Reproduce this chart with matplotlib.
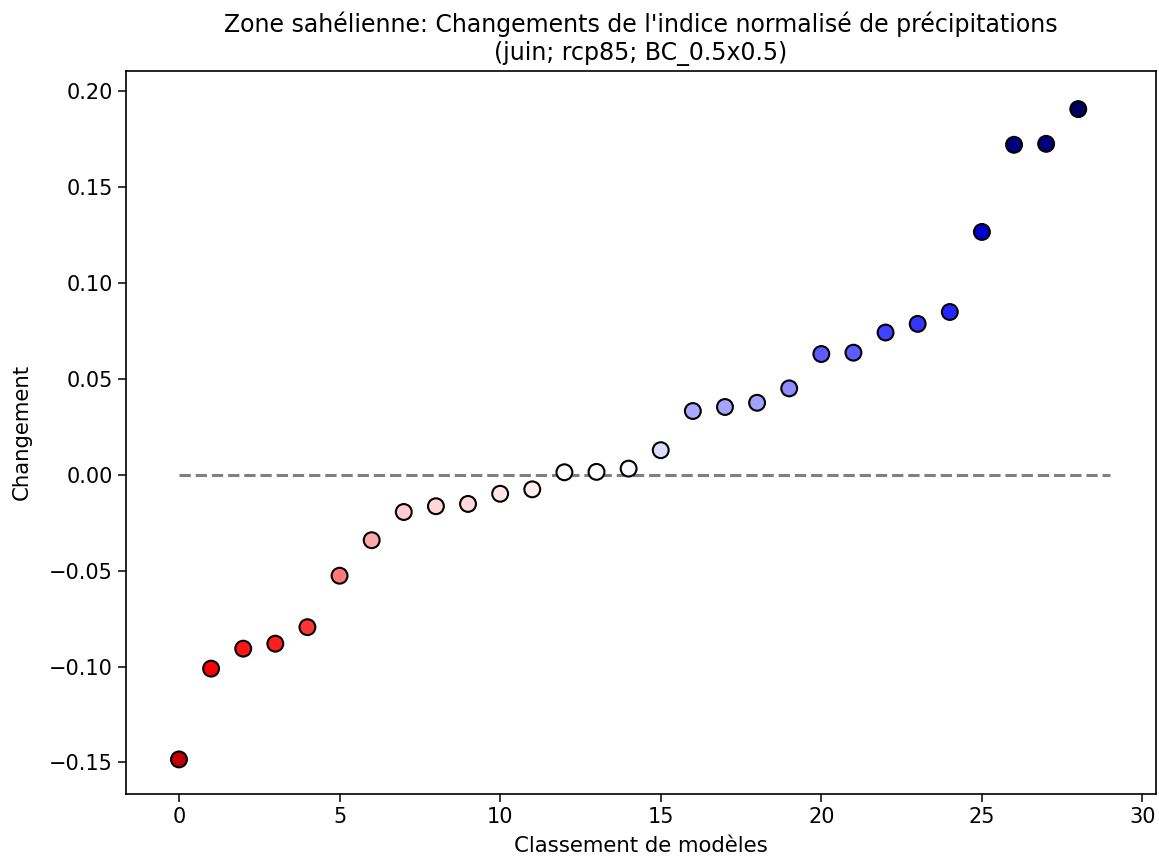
import matplotlib
matplotlib.use("Agg")
import matplotlib.pyplot as plt
import numpy as np
from matplotlib.colors import Normalize

rank = list(range(29))
change = [-0.1484, -0.1011, -0.0907, -0.0881, -0.0795, -0.0527, -0.0342, -0.0195,
          -0.0165, -0.0153, -0.0100, -0.0077, 0.0012, 0.0014, 0.0031, 0.0127,
          0.0331, 0.0352, 0.0374, 0.0449, 0.0628, 0.0635, 0.0740, 0.0785,
          0.0847, 0.1264, 0.1718, 0.1723, 0.1904]

title = "Zone sahélienne: Changements de l'indice normalisé de précipitations\n(juin; rcp85; BC_0.5x0.5)"
xlabel = "Classement de modèles"
ylabel = "Changement"

plt.rcParams['font.family'] = ['DejaVu Sans']
fs = 15

fig = plt.figure(figsize=(11.59, 8.59), dpi=100)
ax = fig.add_axes([0.1087, 0.0757, 0.9974 - 0.1087, 0.9177 - 0.0757])

norm = Normalize(vmin=-0.2, vmax=0.2)
ax.hlines(0, 0, 29, colors='grey', linestyles='--', linewidth=2.2, zorder=1)
ax.scatter(rank, change, c=change, cmap='seismic_r', norm=norm, s=130,
           edgecolors='black', linewidths=1.5, zorder=3)

ax.set_xlim(-1.65, 30.42)
ax.set_ylim(-0.1664, 0.2104)
ax.set_xticks([0, 5, 10, 15, 20, 25, 30])
ax.set_yticks([-0.15, -0.10, -0.05, 0.0, 0.05, 0.10, 0.15, 0.20])
ax.tick_params(labelsize=fs, length=6, width=1.1)
for sp in ax.spines.values():
    sp.set_linewidth(1.2)

ax.set_title(title, fontsize=17, pad=8)
ax.set_xlabel(xlabel, fontsize=15.3, labelpad=6)
ax.set_ylabel(ylabel, fontsize=15.3, labelpad=12)

fig.savefig("out.png", dpi=100)
